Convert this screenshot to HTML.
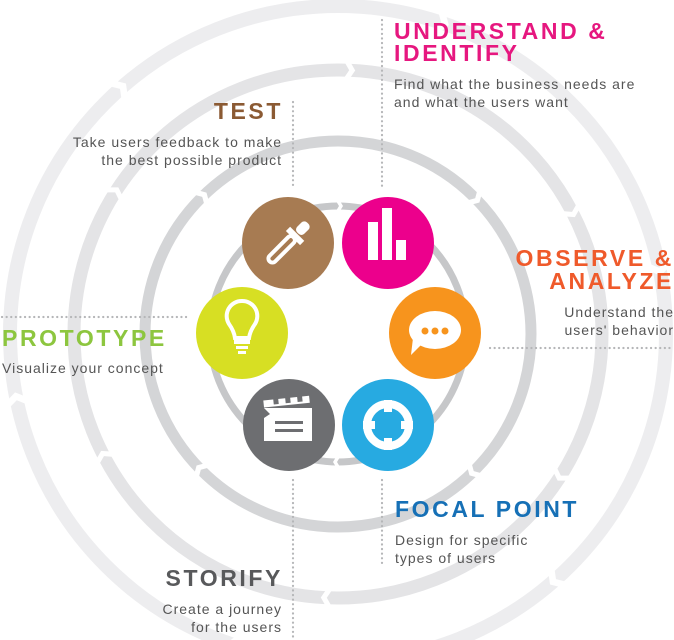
<!DOCTYPE html>
<html><head><meta charset="utf-8"><style>
html,body{margin:0;padding:0;background:#fff;}
body{width:674px;height:640px;overflow:hidden;position:relative;font-family:"Liberation Sans",sans-serif;}
.t{position:absolute;font-weight:bold;font-size:23px;line-height:22px;white-space:nowrap;letter-spacing:2.6px;}
.d{position:absolute;font-size:14px;line-height:18px;color:#555;white-space:nowrap;letter-spacing:1px;}
.r{text-align:right;}
</style></head><body>
<svg width="674" height="640" style="position:absolute;left:0;top:0">
<defs>
<polygon id="c1" points="-4,-9 4,-9 10,0 4,9 -4,9 2,0" fill="#fff"/>
<polygon id="c2" points="-3,-8 3,-8 8,0 3,8 -3,8 2,0" fill="#fff"/>
<polygon id="c3" points="-3,-7 3,-7 7,0 3,7 -3,7 1,0" fill="#fff"/>
<polygon id="c4" points="-2,-5 2,-5 5,0 2,5 -2,5 1,0" fill="#fff"/>
</defs>
<g fill="none">
<circle cx="338" cy="334" r="328" stroke="#ededef" stroke-width="14"/>
<circle cx="338" cy="334" r="264" stroke="#e4e4e6" stroke-width="13"/>
<circle cx="338" cy="334" r="193" stroke="#d4d5d7" stroke-width="11"/>
<circle cx="338" cy="334" r="128" stroke="#c6c7c9" stroke-width="7"/>
</g>
<g>
<use href="#c1" transform="rotate(-42 338 334) translate(338 6)"/>
<use href="#c1" transform="rotate(18 338 334) translate(338 6)"/>
<use href="#c1" transform="rotate(78 338 334) translate(338 6)"/>
<use href="#c1" transform="rotate(138 338 334) translate(338 6)"/>
<use href="#c1" transform="rotate(198 338 334) translate(338 6)"/>
<use href="#c1" transform="rotate(258 338 334) translate(338 6)"/>
<use href="#c2" transform="rotate(2 338 334) translate(338 70)"/>
<use href="#c2" transform="rotate(62 338 334) translate(338 70)"/>
<use href="#c2" transform="rotate(122 338 334) translate(338 70)"/>
<use href="#c2" transform="rotate(182 338 334) translate(338 70)"/>
<use href="#c2" transform="rotate(242 338 334) translate(338 70)"/>
<use href="#c2" transform="rotate(302 338 334) translate(338 70)"/>
<use href="#c3" transform="rotate(-45 338 334) translate(338 141)"/>
<use href="#c3" transform="rotate(45 338 334) translate(338 141)"/>
<use href="#c3" transform="rotate(135 338 334) translate(338 141)"/>
<use href="#c3" transform="rotate(225 338 334) translate(338 141)"/>
<use href="#c4" transform="rotate(0 338 334) translate(338 206)"/>
<use href="#c4" transform="rotate(180 338 334) translate(338 206)"/>
</g>
<g stroke="#b5b6b8" stroke-width="2.2" stroke-dasharray="0.1 4.5" stroke-linecap="round" fill="none">
<line x1="382" y1="20" x2="382" y2="188"/>
<line x1="293" y1="102" x2="293" y2="188"/>
<line x1="2" y1="317" x2="187" y2="317"/>
<line x1="490" y1="348" x2="674" y2="348"/>
<line x1="293" y1="480" x2="293" y2="640"/>
<line x1="382" y1="480" x2="382" y2="565"/>
</g>
<!-- dropper -->
<g transform="translate(288,243)">
<circle r="46" fill="#a77b52"/>
<g transform="rotate(45)" fill="none" stroke="#fff" stroke-width="4">
<rect x="-4" y="-8" width="8" height="34" rx="4"/>
<line x1="-10" y1="-10" x2="10" y2="-10" stroke-width="6"/>
<rect x="-5" y="-28" width="10" height="14" rx="4" fill="#fff" stroke="none"/>
</g></g>
<!-- bars -->
<g transform="translate(388,243)">
<circle r="46" fill="#ec008c"/>
<g fill="#fff"><rect x="-20" y="-21" width="10" height="38"/><rect x="-6" y="-35" width="10" height="52"/><rect x="8" y="-3" width="10" height="20"/></g></g>
<!-- speech -->
<g transform="translate(435,333)">
<circle r="46" fill="#f7941d"/>
<ellipse cx="0" cy="-3" rx="26" ry="19" fill="#fff"/>
<polygon points="-22,5 -14,12 -24,22" fill="#fff"/>
<g fill="#f7941d"><circle cx="-10" cy="-2" r="3.5"/><circle cx="0" cy="-2" r="3.5"/><circle cx="10" cy="-2" r="3.5"/></g></g>
<!-- target -->
<g transform="translate(388,425)">
<circle r="46" fill="#27aae1"/>
<circle r="21" fill="none" stroke="#fff" stroke-width="8"/>
<g fill="#fff"><rect x="-4" y="-25" width="8" height="12"/><rect x="-4" y="13" width="8" height="12"/><rect x="-25" y="-4" width="12" height="8"/><rect x="13" y="-4" width="12" height="8"/></g></g>
<!-- clapper -->
<g transform="translate(289,425)">
<circle r="46" fill="#6d6e71"/>
<g fill="#fff"><rect x="-23" y="-27" width="46" height="7" transform="rotate(-6)"/>
<polygon points="-25,-17 23,-17 23,16 -25,16 -25,-7 -19,-11"/></g>
<g fill="#6d6e71"><rect x="-13" y="-30" width="5" height="8" transform="rotate(-6)"/><rect x="-1" y="-30" width="5" height="8" transform="rotate(-6)"/><rect x="11" y="-30" width="5" height="8" transform="rotate(-6)"/>
<rect x="-14" y="-4" width="28" height="3"/><rect x="-14" y="4" width="28" height="3"/></g></g>
<!-- bulb -->
<g transform="translate(242,333)">
<circle r="46" fill="#d7df23"/>
<path d="M0 -32 a15 15 0 0 1 13 23 q-5 7 -6 14 h-14 q-1 -7 -6 -14 a15 15 0 0 1 13 -23z" fill="none" stroke="#fff" stroke-width="4"/>
<g fill="#fff"><rect x="-8" y="7" width="16" height="4"/><rect x="-6" y="13" width="12" height="3"/><rect x="-4" y="18" width="8" height="3"/></g></g>
</svg>
<div class="t" style="left:394px;top:20px;color:#e6177f">UNDERSTAND &amp;<br>IDENTIFY</div>
<div class="d" style="left:394px;top:75px">Find what the business needs are<br>and what the users want</div>
<div class="t r" style="right:391px;top:100px;color:#8b5a33">TEST</div>
<div class="d r" style="right:392px;top:133px">Take users feedback to make<br>the best possible product</div>
<div class="t r" style="right:0px;top:247px;color:#ef5a2b;line-height:23px">OBSERVE &amp;<br>ANALYZE</div>
<div class="d r" style="right:0px;top:303px">Understand the<br>users' behavior</div>
<div class="t" style="left:2px;top:327px;color:#8dc63f">PROTOTYPE</div>
<div class="d" style="left:2px;top:359px">Visualize your concept</div>
<div class="t" style="left:395px;top:498px;color:#1670b6">FOCAL POINT</div>
<div class="d" style="left:395px;top:531px">Design for specific<br>types of users</div>
<div class="t r" style="right:391px;top:567px;color:#58595b">STORIFY</div>
<div class="d r" style="right:392px;top:600px">Create a journey<br>for the users</div>
</body></html>
